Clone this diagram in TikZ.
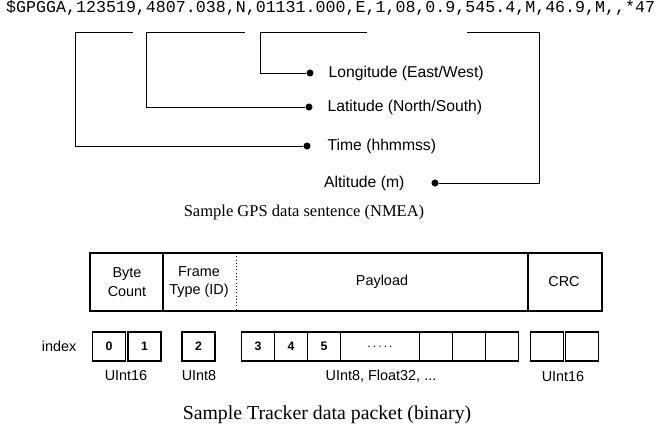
\documentclass[tikz,border=0pt]{standalone}
\usepackage{fontspec}
\setmainfont{Liberation Serif}
\setsansfont{Liberation Sans}
\setmonofont{Liberation Mono}
\usetikzlibrary{positioning}

\begin{document}
\begin{tikzpicture}[x=0.03cm, y=-0.03cm]
        \useasboundingbox (0,0) rectangle (657,423);
        \tikzset{
            gps line/.style={line width=0.8pt},
            dot/.style={circle, fill=black, inner sep=0pt, minimum size=6pt},
            gps label/.style={font=\sffamily\fontsize{13.4}{15}\selectfont, inner sep=0pt},
            field/.style={font=\sffamily\fontsize{12.3}{16}\selectfont, align=center, inner sep=0pt},
            cell/.style={draw, line width=1.1pt, minimum width=0.99cm, minimum height=0.87cm,
                inner sep=0pt, font=\sffamily\bfseries\fontsize{10.5}{12}\selectfont},
            type label/.style={font=\sffamily\fontsize{12.3}{15}\selectfont, inner sep=0pt},
        }

        % NMEA sentence
        \node[anchor=base west, inner sep=0pt, font=\ttfamily\fontsize{14.2}{16}\selectfont]
            (nmea) at (6,13) {\$GPGGA,123519,4807.038,N,01131.000,E,1,08,0.9,545.4,M,46.9,M,,*47};

        % bracket ends under the fields
        \coordinate (time r) at (133,32);  \coordinate (time l) at (75,32);
        \coordinate (lat r) at (245,32);   \coordinate (lat l) at (146,32);
        \coordinate (lon r) at (367,32);   \coordinate (lon l) at (260,32);
        \coordinate (alt l) at (467,32);   \coordinate (alt r) at (539,32);

        % dots and labels
        \node[dot] (lon dot) at (310,73) {};
        \node[dot] (lat dot) at (309,107) {};
        \node[dot] (time dot) at (307,146) {};
        \node[dot] (alt dot) at (435,183) {};
        \node[gps label, right=0.44cm of lon dot] (lon) {Longitude (East/West)};
        \node[gps label, right=0.44cm of lat dot] (lat) {Latitude (North/South)};
        \node[gps label, right=0.5cm of time dot] (time) {Time (hhmmss)};
        \node[gps label, left=0.8cm of alt dot] (alt) {Altitude (m)};

        \draw[gps line] (lon r) -- (lon l) |- (lon dot);
        \draw[gps line] (lat r) -- (lat l) |- (lat dot);
        \draw[gps line] (time r) -- (time l) |- (time dot);
        \draw[gps line] (alt l) -- (alt r) |- (alt dot);

        \node[anchor=base, inner sep=0pt, font=\fontsize{14.1}{16}\selectfont] (gps caption) at (304,216)
            {Sample GPS data sentence (NMEA)};

        % packet frame
        \draw[line width=1.1pt] (90,253) rectangle (602,311);
        \draw[line width=1.1pt] (163,253) -- (163,311);
        \draw[line width=0.8pt, dotted] (236,253) -- (236,311);
        \draw[line width=1.1pt] (528,253) -- (528,311);
        \node[field] (count) at (127,282) {Byte\\Count};
        \node[field] (ftype) at (199,282) {Frame\\Type (ID)};
        \node[field] (payload) at (382,282) {Payload};
        \node[field] (crc) at (564,282) {CRC};

        % index cells
        \foreach \n/\x/\t in {c0/109/0, c1/144.5/1, c2/198.5/2, c3/258/3, c4/291/4, c5/324/5,
                c7/436/, c8/469/, c9/502/, c10/547/, c11/582/} {
            \node[cell] (\n) at (\x,346.5) {\t};
        }
        \node[cell, minimum width=2.37cm] (c6) at (380,346.5) {\raisebox{-0.3ex}{\mdseries .\,.\,.\,.\,.}};

        \node[type label, left=0.46cm of c0] (index) {index};
        \node[type label] (u16 count) at (126,376) {UInt16};
        \node[type label] (u8 type) at (199,376) {UInt8};
        \node[type label] (payload type) at (381,376) {UInt8, Float32, ...};
        \node[type label] (u16 crc) at (563,377) {UInt16};

        \node[anchor=base, inner sep=0pt, font=\fontsize{16.9}{19}\selectfont] (tracker caption) at (327,419)
            {Sample Tracker data packet (binary)};
\end{tikzpicture}
\end{document}
